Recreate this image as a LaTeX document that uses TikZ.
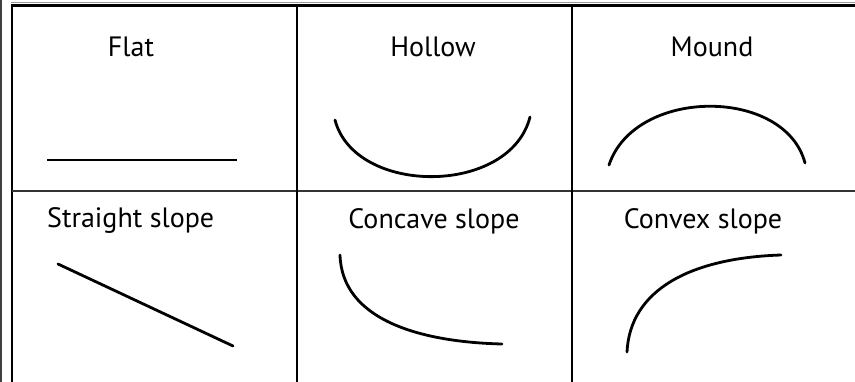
\documentclass[tikz,border=0pt]{standalone}
\usepackage{fontspec}
\setmainfont{PT Sans}
\begin{document}
\begin{tikzpicture}[x=1pt,y=-1pt,
  lbl/.style={font=\fontsize{28}{32}\selectfont, inner sep=0pt},
  frame/.style={line width=2.6pt, black},
  curve/.style={line width=2.8pt, line cap=round}]
\useasboundingbox (0,0) rectangle (855,382);
% outer thin gray edges
\draw[line width=2pt, black!75] (1,0) -- (1,382);
\draw[line width=1pt, black!40] (11,3) -- (855,3);
% grid
\coordinate (tl) at (12,5.5);
\coordinate (tr) at (855,5.5);
\coordinate (bl) at (12,382);
\coordinate (ml) at (12,191);
\coordinate (mr) at (855,191);
\coordinate (v1t) at (297,5.5);
\coordinate (v1b) at (297,382);
\coordinate (v2t) at (572,5.5);
\coordinate (v2b) at (572,382);
\draw[frame] (bl) -- (tl) -- (tr);
\draw[line width=2.4pt, black!80] (ml) -- (mr);
\draw[frame] (v1t) -- (v1b);
\draw[frame] (v2t) -- (v2b);
% labels
\node[lbl] (flat) at (131,47) {Flat};
\node[lbl] (hollow) at (433,47) {Hollow};
\node[lbl] (mound) at (712,47) {Mound};
\node[lbl, anchor=west] (straight) at (47,221) {Straight slope};
\node[lbl] (concave) at (434,221) {Concave slope};
\node[lbl] (convex) at (703,221) {Convex slope};
% curves
\coordinate (f1) at (47,160); \coordinate (f2) at (237,160);
\draw[curve, line cap=butt] (f1) -- (f2);
\coordinate (h1) at (335,120); \coordinate (h2) at (530,117);
\draw[curve] (h1) .. controls (355,196) and (510,196) .. (h2);
\coordinate (m1) at (609,165); \coordinate (m2) at (805,163);
\draw[curve] (m1) .. controls (635,87) and (785,87) .. (m2);
\coordinate (s1) at (58,264); \coordinate (s2) at (233,346);
\draw[curve] (s1) -- (s2);
\coordinate (c1) at (340,255); \coordinate (c2) at (502,344);
\draw[curve] (c1) .. controls (342,320) and (420,342) .. (c2);
\coordinate (x1) at (627,352); \coordinate (x2) at (781,255);
\draw[curve] (x1) .. controls (630,290) and (690,258) .. (x2);
\end{tikzpicture}
\end{document}
